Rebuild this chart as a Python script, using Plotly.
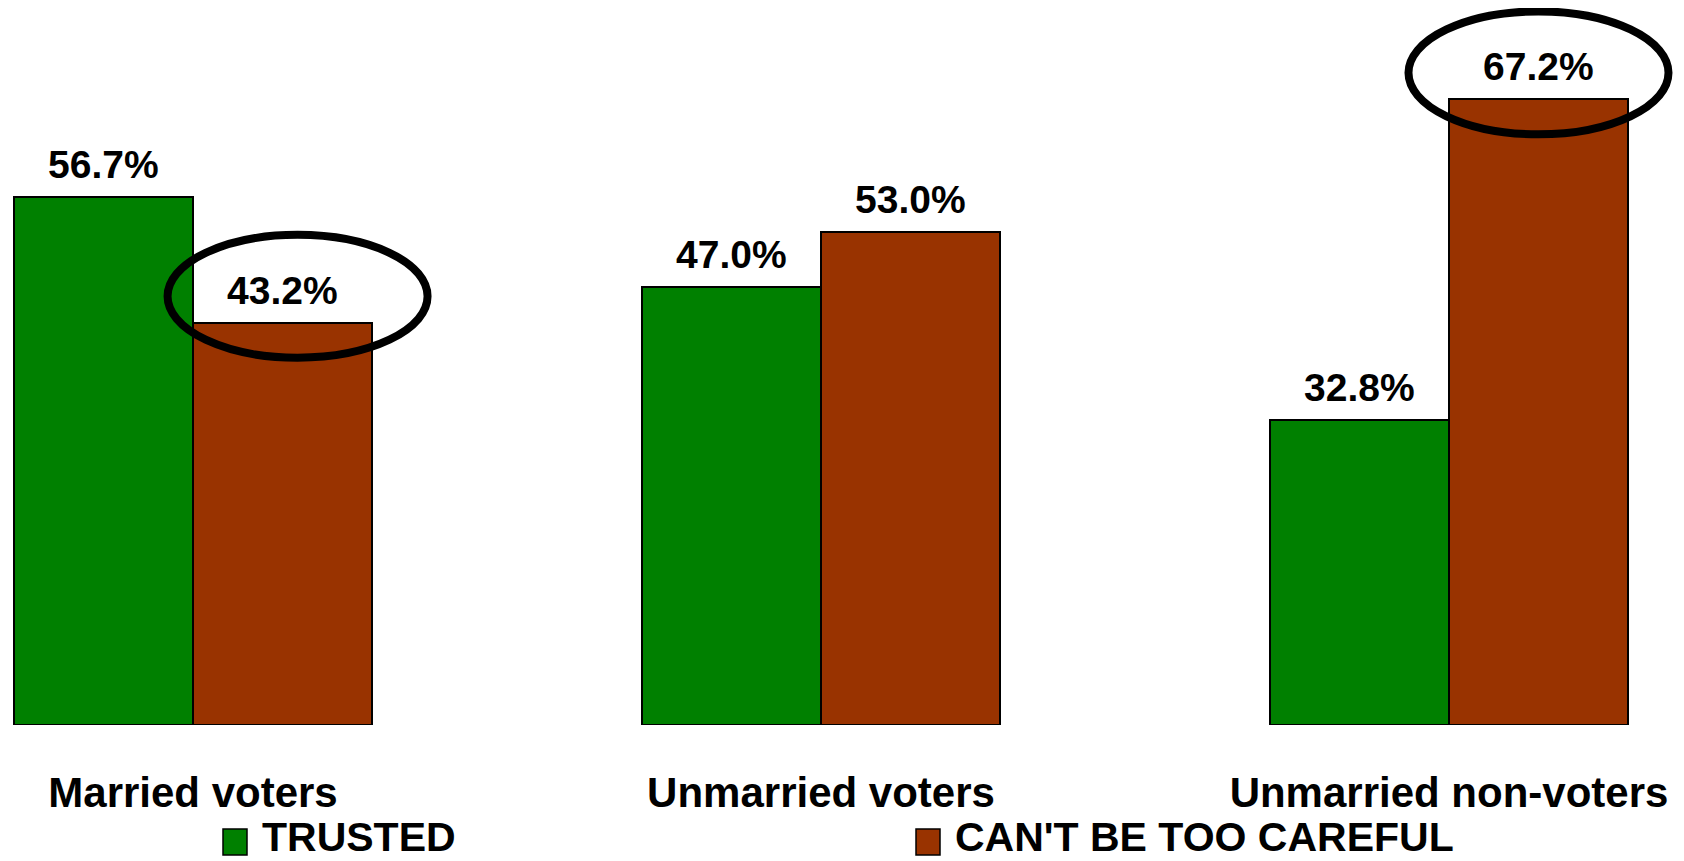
import plotly.graph_objects as go

categories = ["Married voters", "Unmarried voters", "Unmarried non-voters"]
trusted = [56.7, 47.0, 32.8]
careful = [43.2, 53.0, 67.2]
series_names = ["TRUSTED", "CAN'T BE TOO CAREFUL"]
colors = ["#008000", "#993300"]
highlight = [(1, 0), (1, 2)]  # (series index, category index) circled

OFF = 8  # browser body margin
W, H = 1684 - OFF, 861 - OFF
FONT = "Liberation Sans, Arial, sans-serif"
bw = 0.285
xpos = list(range(len(categories)))
px_per_cat = 628
first_cat_px = 193 - OFF
plot_h = 725 - OFF

fig = go.Figure()
for si, vals in enumerate([trusted, careful]):
    fig.add_trace(go.Bar(
        x=xpos, y=vals, name=series_names[si],
        width=bw, offset=-bw if si == 0 else 0,
        marker=dict(color=colors[si], line=dict(color="black", width=2)),
        showlegend=False, hoverinfo="skip",
    ))

annotations = []
for si, vals in enumerate([trusted, careful]):
    for ci, v in enumerate(vals):
        xc = ci - bw / 2 if si == 0 else ci + bw / 2
        annotations.append(dict(
            x=xc, y=v, xref="x", yref="y", text=f"{v:.1f}%",
            showarrow=False, yanchor="bottom", xanchor="center", yshift=9,
            font=dict(family=FONT, size=39, color="black", weight="bold"),
        ))

shapes = []
for si, ci in highlight:
    v = [trusted, careful][si][ci]
    xc = ci + bw / 2 + (0.024 if ci == 0 else 0.0)
    yc = v + 2.85
    shapes.append(dict(
        type="circle", xref="x", yref="y",
        x0=xc - 0.207, x1=xc + 0.207, y0=yc - 6.6, y1=yc + 6.6,
        line=dict(color="black", width=8), fillcolor="rgba(0,0,0,0)",
    ))

# manual legend (page pixel positions converted to paper coords)
def py(p):
    return (plot_h - (p - OFF)) / plot_h

def pxp(p):
    return (p - OFF) / W

legend_x = [223, 916]
for i, name in enumerate(series_names):
    x0 = legend_x[i]
    shapes.append(dict(
        type="rect", xref="paper", yref="paper",
        x0=pxp(x0), x1=pxp(x0 + 24), y0=py(855), y1=py(829),
        fillcolor=colors[i], line=dict(color="black", width=1.5),
    ))
    annotations.append(dict(
        x=pxp(x0 + 38), y=py(861), xref="paper", yref="paper",
        text=name, showarrow=False, xanchor="left", yanchor="bottom",
        borderpad=0,
        font=dict(family=FONT, size=41, color="black", weight="bold"),
    ))

fig.update_layout(
    width=W, height=H,
    margin=dict(l=0, r=0, t=0, b=H - plot_h, pad=0),
    paper_bgcolor="white", plot_bgcolor="white",
    barmode="overlay", bargap=0,
    xaxis=dict(
        range=[-first_cat_px / px_per_cat, (W - first_cat_px) / px_per_cat],
        tickvals=xpos, ticktext=categories,
        showgrid=False, zeroline=False, showline=False, ticks="",
        ticklabelstandoff=39,
        tickfont=dict(family=FONT, size=42, color="black", weight="bold"),
    ),
    yaxis=dict(
        range=[0, plot_h / 9.31], visible=False, showgrid=False, zeroline=False,
    ),
    annotations=annotations, shapes=shapes,
)

fig.write_html("out.html")
